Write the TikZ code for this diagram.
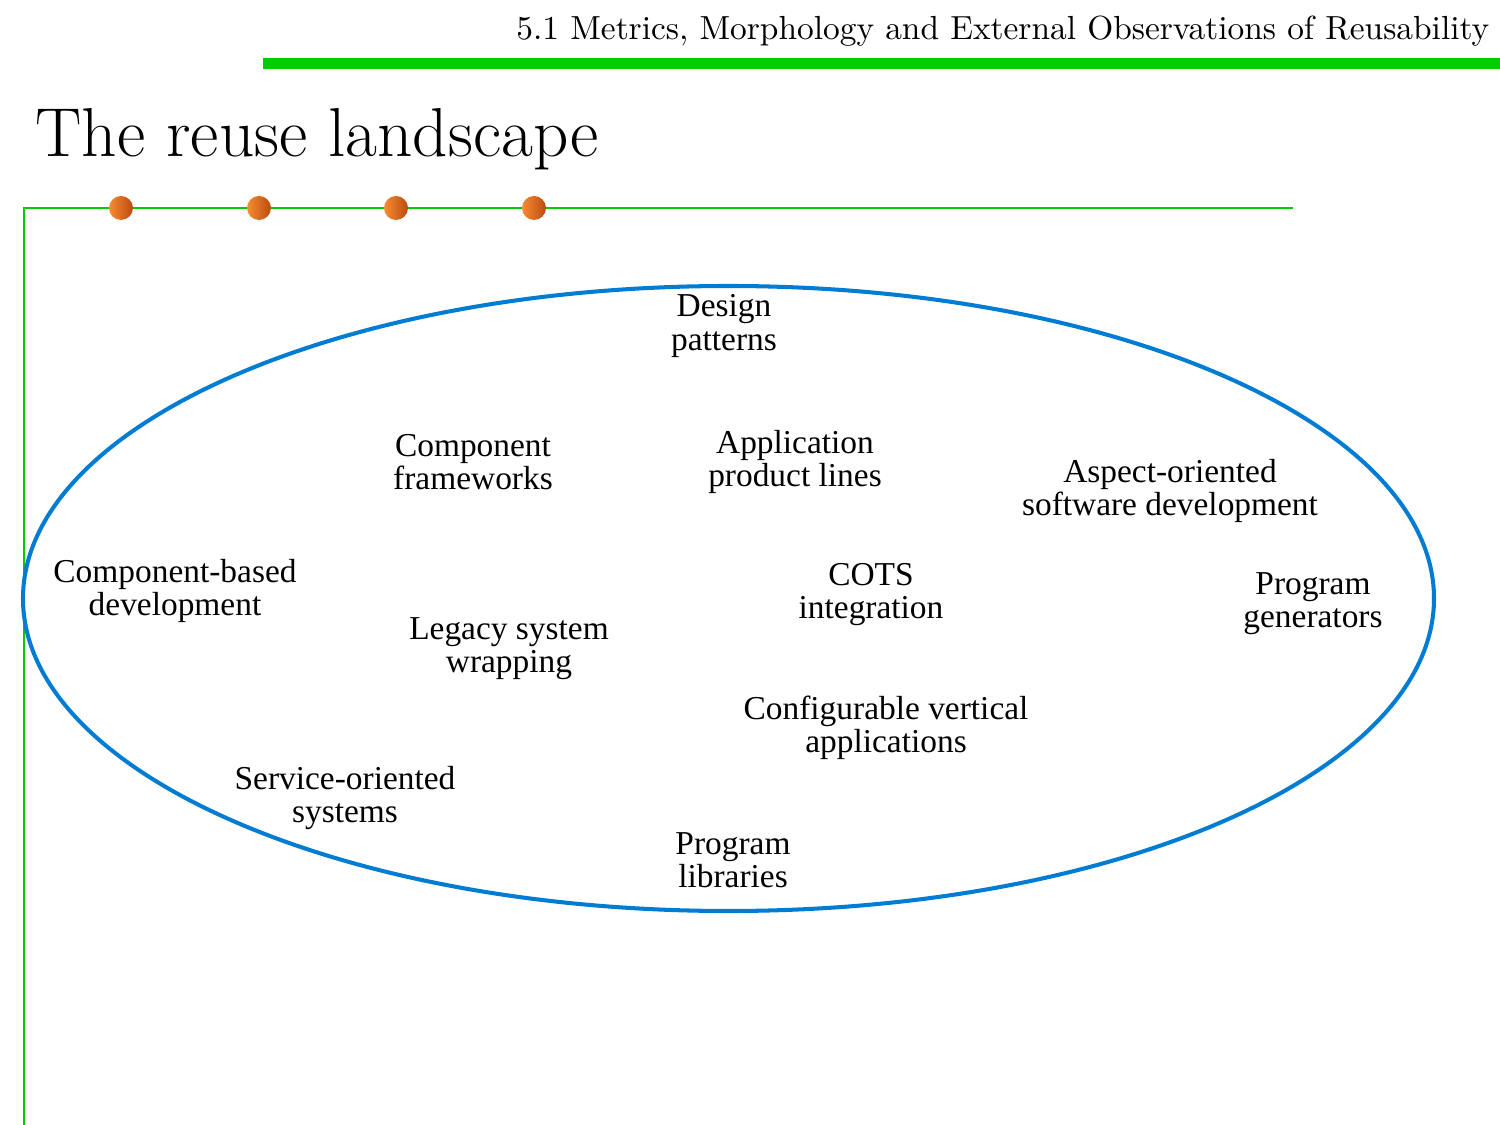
\documentclass[tikz,border=0pt]{standalone}
\usepackage{fontspec}
\newfontfamily\labelfont{Liberation Serif}
\usetikzlibrary{positioning}
\definecolor{barGreen}{RGB}{0,204,0}
\definecolor{ringBlue}{RGB}{0,125,210}
\definecolor{dotLight}{RGB}{248,140,50}
\definecolor{dotDark}{RGB}{185,75,15}

\begin{document}
\begin{tikzpicture}[x=0.01cm,y=-0.01cm,
   idea/.style={font=\labelfont\fontsize{9.5}{9.4}\selectfont,align=center,inner sep=0pt}]
   \useasboundingbox (0,0) rectangle (1500,1125);
   % header and title
   \node[anchor=base east,inner sep=0pt,font=\fontsize{9.5}{12}\selectfont] (header) at (1490,40)
      {5.1 Metrics, Morphology and External Observations of Reusability};
   \fill[barGreen] (263,58) rectangle (1500,69);
   \node[anchor=base west,inner sep=0pt,font=\fontsize{19.7}{22}\selectfont] (title) at (35,157)
      {The reuse landscape};
   \draw[barGreen,line width=0.6pt] (1293,208) -- (24,208) -- (24,1125);
   \foreach \x in {121,259,396,534} {
      \shade[left color=dotLight,right color=dotDark] (\x,208) circle (12);
   }
   % the landscape
   \draw[ringBlue,line width=1.15pt] (728.5,598.5) ellipse [x radius=705.5,y radius=312.5];
   \node[idea] (design)    at (724,326)  {Design\\patterns};
   \node[idea] (compframe) at (473,462)  {Component\\frameworks};
   \node[idea] (appline)   at (795,462)  {Application\\product lines};
   \node[idea] (aspect)    at (1170,491) {Aspect-oriented\\software development};
   \node[idea] (cbd)       at (175,591)  {Component-based\\development};
   \node[idea] (cots)      at (871,595)  {COTS\\integration};
   \node[idea] (proggen)   at (1313,604) {Program\\generators};
   \node[idea] (legacy)    at (509,649)  {Legacy system\\wrapping};
   \node[idea] (config)    at (886,728)  {Configurable vertical\\applications};
   \node[idea] (soa)       at (345,798)  {Service-oriented\\systems};
   \node[idea] (proglib)   at (733,860)  {Program\\libraries};
\end{tikzpicture}
\end{document}
